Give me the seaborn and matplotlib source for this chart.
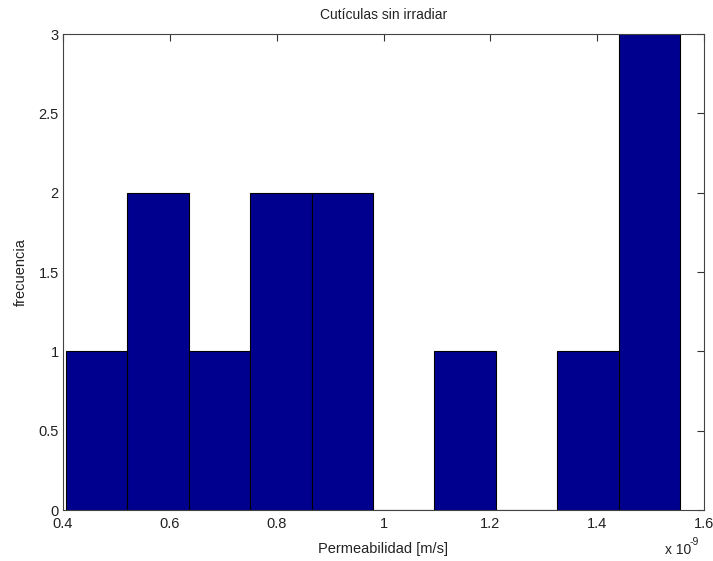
import matplotlib
matplotlib.use("Agg")
import matplotlib.pyplot as plt
import seaborn as sns
import numpy as np
import pandas as pd

# data (x in units of 1e-9 m/s)
bin_edges = [0.4056, 0.5205, 0.6355, 0.7504, 0.8654, 0.9803, 1.0953, 1.2102, 1.3252, 1.4401, 1.5550]
counts = [1, 2, 1, 2, 2, 0, 1, 0, 1, 3]
x_ticks = [0.4, 0.6, 0.8, 1.0, 1.2, 1.4, 1.6]
x_ticklabels = ["0.4", "0.6", "0.8", "1", "1.2", "1.4", "1.6"]
y_ticks = [0, 0.5, 1, 1.5, 2, 2.5, 3]
y_ticklabels = ["0", "0.5", "1", "1.5", "2", "2.5", "3"]
title = "Cutículas sin irradiar"
xlabel = "Permeabilidad [m/s]"
ylabel = "frecuencia"

sns.set_style("white")
plt.rcParams['font.family'] = ['Liberation Sans', 'DejaVu Sans']

centers = [(bin_edges[i] + bin_edges[i + 1]) / 2 for i in range(len(counts))]
df = pd.DataFrame({"x": centers, "w": counts})

fig = plt.figure(figsize=(7.13, 5.61), dpi=100)
ax = fig.add_axes([63 / 713, 51 / 561, 641 / 713, 476 / 561])

sns.histplot(data=df, x="x", weights="w", bins=bin_edges, ax=ax,
             color="#00008F", alpha=1.0, edgecolor="black", linewidth=0.8)

ax.set_xlim(0.4, 1.6)
ax.set_ylim(0, 3)
ax.set_xticks(x_ticks)
ax.set_xticklabels(x_ticklabels)
ax.set_yticks(y_ticks)
ax.set_yticklabels(y_ticklabels)
ax.tick_params(direction="in", length=5, width=0.8, top=True, right=True,
               labelsize=10.5, colors="#333333", labelcolor="#222222")
ax.tick_params(axis="x", pad=5)
ax.tick_params(axis="y", pad=3)
for s in ax.spines.values():
    s.set_visible(True)
    s.set_color("#444444")
    s.set_linewidth(0.8)

ax.set_title(title, fontsize=10, color="#222222", pad=11)
ax.set_xlabel(xlabel, fontsize=10.5, color="#222222", labelpad=8)
ax.set_ylabel(ylabel, fontsize=10.5, color="#222222", labelpad=8)
fig.text(678 / 713, 1 - 550 / 561, "x 10", fontsize=10, color="#222222",
         ha="center", va="center")
fig.text(694 / 713, 1 - 542 / 561, "-9", fontsize=7.5, color="#222222",
         ha="center", va="center")

fig.savefig("out.png", dpi=100)
